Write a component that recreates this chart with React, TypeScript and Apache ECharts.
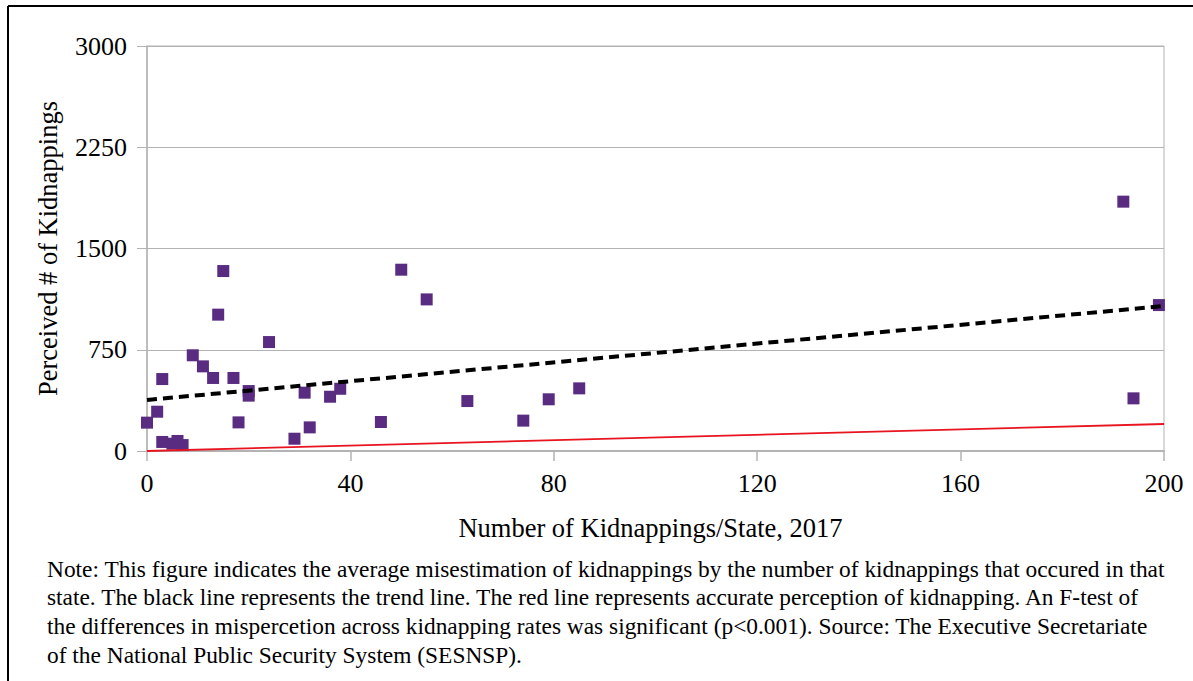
import React, { useEffect, useRef } from "react";
import * as echarts from "echarts";

const stateKidnappings = [0, 2, 3, 3, 5, 6, 7, 9, 11, 13, 14, 15, 17, 18, 20, 20, 24, 29, 31, 32, 36, 38, 46, 50, 55, 63, 74, 79, 85, 192, 194, 199];
const perceivedKidnappings = [210, 291, 533, 67, 54, 74, 44, 709, 627, 541, 1010, 1333, 541, 212, 444, 410, 807, 91, 432, 175, 402, 461, 215, 1343, 1123, 370, 225, 383, 464, 1847, 390, 1081];

const trendX = [0, 200];
const trendY = [378, 1074];
const accurateX = [0, 200];
const accurateY = [0, 200];

const xTicks = { min: 0, max: 200, interval: 40 };
const yTicks = { min: 0, max: 3000, interval: 750 };

const titleText = "Figure 3: The Perception of Kidnapping by Number of Kidnapping per State";
const xAxisTitle = "Number of Kidnappings/State, 2017";
const yAxisTitle = "Perceived # of Kidnappings";
const noteLines = [
  "Note: This figure indicates the average misestimation of kidnappings by the number of kidnappings that occured in that",
  "state. The black line represents the trend line. The red line represents accurate perception of kidnapping. An F-test of",
  "the differences in mispercetion across kidnapping rates was significant (p<0.001). Source: The Executive Secretariate",
  "of the National Public Security System (SESNSP).",
];

const FONT = "'Liberation Serif', 'Times New Roman', serif";
const GRAY = "#b3b3b3";

export default function App() {
  const ref = useRef<HTMLDivElement>(null);
  useEffect(() => {
    if (!ref.current) return;
    const chart = echarts.init(ref.current, undefined, { renderer: "svg" });
    const scatterData = stateKidnappings.map((x, i) => [x, perceivedKidnappings[i]]);
    chart.setOption({
      animation: false,
      backgroundColor: "#ffffff",
      textStyle: { fontFamily: FONT },
      grid: {
        left: 147,
        right: 29,
        top: 46,
        bottom: 230,
        show: true,
        borderColor: GRAY,
        borderWidth: 1,
      },
      xAxis: {
        type: "value",
        min: xTicks.min,
        max: xTicks.max,
        interval: xTicks.interval,
        name: xAxisTitle,
        nameLocation: "middle",
        nameGap: 63,
        nameTextStyle: { fontFamily: FONT, fontSize: 26.5, color: "#000", padding: [0, 10, 0, 0] },
        axisLine: { show: true, lineStyle: { color: GRAY, width: 2 } },
        axisTick: { show: true, length: 10, lineStyle: { color: GRAY, width: 1.5 } },
        axisLabel: { fontFamily: FONT, fontSize: 26, color: "#000", margin: 19, formatter: (v: number) => String(v) },
        splitLine: { show: false },
      },
      yAxis: {
        type: "value",
        min: yTicks.min,
        max: yTicks.max,
        interval: yTicks.interval,
        name: yAxisTitle,
        nameLocation: "middle",
        nameGap: 86,
        nameRotate: 90,
        nameTextStyle: { fontFamily: FONT, fontSize: 26.5, color: "#000" },
        axisLine: { show: true, lineStyle: { color: GRAY, width: 1.5 } },
        axisTick: { show: true, length: 10, lineStyle: { color: GRAY, width: 1 } },
        axisLabel: { fontFamily: FONT, fontSize: 26, color: "#000", margin: 20, formatter: (v: number) => String(v) },
        splitLine: { show: true, lineStyle: { color: GRAY, width: 1 } },
      },
      series: [
        {
          type: "scatter",
          data: scatterData,
          symbol: "rect",
          symbolSize: 12,
          itemStyle: { color: "#592c82", opacity: 1 },
          z: 2,
        },
        {
          type: "line",
          data: trendX.map((x, i) => [x, trendY[i]]),
          symbol: "none",
          lineStyle: { color: "#000", width: 4, type: [10, 6] },
          z: 3,
        },
        {
          type: "line",
          data: accurateX.map((x, i) => [x, accurateY[i]]),
          symbol: "none",
          lineStyle: { color: "#e8141f", width: 1.8 },
          z: 3,
        },
      ],
      graphic: [
        {
          type: "text",
          left: -41,
          top: -32,
          style: { text: titleText, fontFamily: FONT, fontWeight: "bold", fontSize: 30, fill: "#000" },
        },
        {
          type: "line",
          shape: { x1: 8, y1: 6, x2: 1193, y2: 6 },
          style: { stroke: "#000", lineWidth: 2 },
        },
        {
          type: "line",
          shape: { x1: 8, y1: 6, x2: 8, y2: 681 },
          style: { stroke: "#000", lineWidth: 2 },
        },
        ...noteLines.map((line, i) => ({
          type: "text",
          left: 47,
          top: 557 + i * 28.7,
          style: { text: line, fontFamily: FONT, fontSize: 23.4, fill: "#000" },
        })),
      ],
    });
    return () => chart.dispose();
  }, []);
  return (
    <div
      ref={ref}
      style={{ position: "fixed", left: 0, top: 0, width: 1193, height: 681, background: "#fff" }}
    />
  );
}
